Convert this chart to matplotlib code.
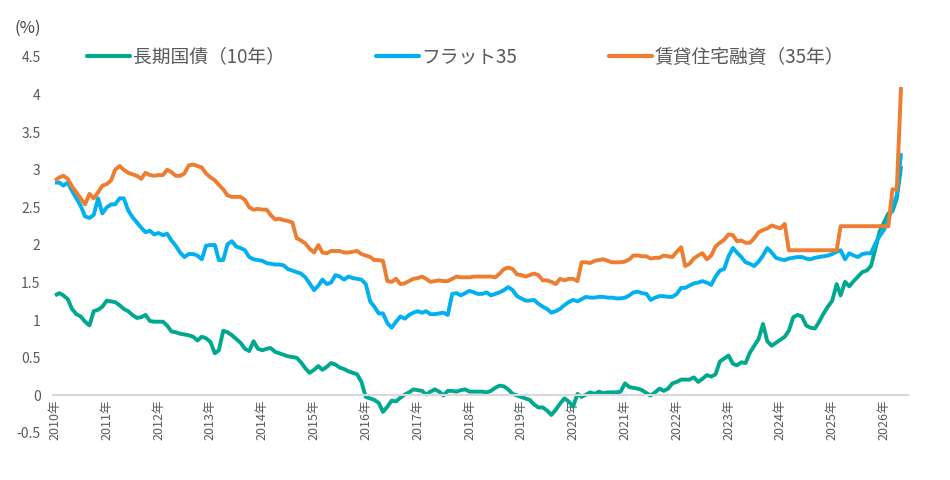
import matplotlib
matplotlib.use("Agg")
import matplotlib.pyplot as plt
import matplotlib.dates as mdates
from matplotlib.ticker import FuncFormatter, MultipleLocator
import pandas as pd

plt.rcParams["font.family"] = ["Noto Sans CJK JP", "DejaVu Sans"]

GREEN = "#00A88F"
BLUE = "#00B0F0"
ORANGE = "#ED7D31"
TEXT = "#595959"
ZERO = "#D9D9D9"

LABELS = ["長期国債（10年）", "フラット35", "賃貸住宅融資（35年）"]

# monthly values, Jan 2010 - May 2026 (one row per year)
jgb10 = [
    1.33, 1.36, 1.33, 1.28, 1.15, 1.08, 1.05, 0.98, 0.93, 1.12, 1.14, 1.18,
    1.26, 1.25, 1.24, 1.20, 1.15, 1.12, 1.07, 1.03, 1.04, 1.07, 0.99, 0.98,
    0.98, 0.98, 0.93, 0.85, 0.84, 0.82, 0.81, 0.80, 0.78, 0.73, 0.78, 0.76,
    0.71, 0.56, 0.60, 0.86, 0.84, 0.80, 0.75, 0.70, 0.62, 0.59, 0.72, 0.62,
    0.60, 0.62, 0.63, 0.58, 0.56, 0.54, 0.52, 0.51, 0.50, 0.44, 0.36, 0.30,
    0.34, 0.39, 0.34, 0.38, 0.43, 0.41, 0.37, 0.35, 0.32, 0.30, 0.28, 0.18,
    -0.02, -0.04, -0.06, -0.10, -0.22, -0.15, -0.07, -0.08, -0.03, 0.01, 0.04, 0.08,
    0.07, 0.06, 0.01, 0.05, 0.08, 0.05, 0.00, 0.06, 0.06, 0.05, 0.07, 0.08,
    0.05, 0.05, 0.05, 0.05, 0.04, 0.06, 0.10, 0.13, 0.12, 0.08, 0.02, 0.00,
    -0.02, -0.04, -0.06, -0.12, -0.16, -0.16, -0.20, -0.26, -0.19, -0.11, -0.04, -0.08,
    -0.15, 0.02, -0.02, 0.01, 0.04, 0.02, 0.05, 0.03, 0.04, 0.04, 0.04, 0.05,
    0.16, 0.11, 0.10, 0.09, 0.07, 0.03, 0.00, 0.04, 0.09, 0.06, 0.09, 0.16,
    0.18, 0.21, 0.21, 0.21, 0.24, 0.18, 0.22, 0.27, 0.25, 0.28, 0.45, 0.49,
    0.53, 0.42, 0.40, 0.44, 0.43, 0.57, 0.66, 0.75, 0.95, 0.72, 0.66, 0.70,
    0.74, 0.78, 0.86, 1.04, 1.07, 1.05, 0.93, 0.90, 0.89, 0.98, 1.09, 1.18,
    1.26, 1.48, 1.33, 1.51, 1.45, 1.52, 1.58, 1.64, 1.66, 1.72, 1.95, 2.18,
    2.30, 2.42, 2.45, 2.62, 3.05,
]

flat35 = [
    2.83, 2.83, 2.79, 2.83, 2.72, 2.62, 2.52, 2.38, 2.36, 2.40, 2.62, 2.42,
    2.50, 2.54, 2.54, 2.62, 2.62, 2.46, 2.37, 2.30, 2.23, 2.17, 2.19, 2.14,
    2.16, 2.13, 2.15, 2.06, 1.99, 1.90, 1.84, 1.88, 1.88, 1.86, 1.81, 1.99,
    2.00, 2.00, 1.80, 1.80, 2.01, 2.05, 1.98, 1.96, 1.93, 1.84, 1.81, 1.80,
    1.79, 1.76, 1.75, 1.74, 1.74, 1.73, 1.68, 1.66, 1.64, 1.62, 1.57, 1.49,
    1.40, 1.46, 1.54, 1.48, 1.50, 1.60, 1.58, 1.54, 1.58, 1.56, 1.55, 1.54,
    1.48, 1.25, 1.18, 1.09, 1.09, 0.96, 0.90, 0.98, 1.05, 1.02, 1.07, 1.10,
    1.12, 1.10, 1.12, 1.08, 1.08, 1.09, 1.10, 1.07, 1.35, 1.36, 1.33, 1.36,
    1.39, 1.37, 1.35, 1.35, 1.37, 1.33, 1.35, 1.37, 1.40, 1.44, 1.40, 1.32,
    1.29, 1.26, 1.26, 1.27, 1.22, 1.18, 1.15, 1.10, 1.12, 1.15, 1.20, 1.24,
    1.27, 1.25, 1.28, 1.31, 1.30, 1.30, 1.31, 1.31, 1.30, 1.30, 1.29, 1.29,
    1.30, 1.33, 1.37, 1.38, 1.36, 1.35, 1.27, 1.30, 1.32, 1.32, 1.31, 1.31,
    1.35, 1.43, 1.43, 1.46, 1.49, 1.50, 1.52, 1.50, 1.47, 1.58, 1.66, 1.68,
    1.85, 1.96, 1.90, 1.84, 1.77, 1.75, 1.72, 1.78, 1.86, 1.96, 1.90, 1.83,
    1.81, 1.80, 1.82, 1.83, 1.84, 1.84, 1.82, 1.81, 1.83, 1.84, 1.85, 1.86,
    1.88, 1.91, 1.93, 1.81, 1.89, 1.86, 1.84, 1.88, 1.89, 1.89, 2.02, 2.12,
    2.20, 2.35, 2.50, 2.66, 3.22,
]

rental35 = [
    2.86, 2.90, 2.92, 2.88, 2.78, 2.70, 2.62, 2.54, 2.68, 2.62, 2.70, 2.79,
    2.81, 2.86, 3.00, 3.05, 3.00, 2.96, 2.94, 2.92, 2.88, 2.96, 2.93, 2.92,
    2.93, 2.93, 3.00, 2.97, 2.92, 2.92, 2.95, 3.06, 3.07, 3.05, 3.03, 2.95,
    2.90, 2.86, 2.80, 2.74, 2.66, 2.64, 2.64, 2.64, 2.60, 2.50, 2.47, 2.48,
    2.47, 2.47, 2.40, 2.34, 2.35, 2.33, 2.32, 2.30, 2.09, 2.06, 2.02, 1.95,
    1.90, 2.00, 1.90, 1.89, 1.92, 1.92, 1.92, 1.90, 1.90, 1.91, 1.92, 1.88,
    1.86, 1.84, 1.80, 1.80, 1.79, 1.52, 1.51, 1.55, 1.48, 1.49, 1.52, 1.55,
    1.56, 1.58, 1.55, 1.51, 1.52, 1.53, 1.52, 1.52, 1.55, 1.58, 1.57, 1.57,
    1.57, 1.58, 1.58, 1.58, 1.58, 1.58, 1.57, 1.62, 1.68, 1.70, 1.68, 1.61,
    1.60, 1.58, 1.60, 1.62, 1.60, 1.53, 1.53, 1.51, 1.48, 1.55, 1.53, 1.55,
    1.55, 1.52, 1.77, 1.77, 1.76, 1.79, 1.80, 1.81, 1.79, 1.77, 1.77, 1.77,
    1.78, 1.81, 1.86, 1.86, 1.85, 1.85, 1.82, 1.83, 1.83, 1.86, 1.85, 1.84,
    1.91, 1.97, 1.72, 1.75, 1.82, 1.86, 1.89, 1.81, 1.86, 1.98, 2.03, 2.07,
    2.14, 2.13, 2.05, 2.06, 2.03, 2.03, 2.09, 2.17, 2.20, 2.22, 2.26, 2.24,
    2.22, 2.28, 1.93, 1.93, 1.93, 1.93, 1.93, 1.93, 1.93, 1.93, 1.93, 1.93,
    1.93, 1.93, 2.25, 2.25, 2.25, 2.25, 2.25, 2.25, 2.25, 2.25, 2.25, 2.25,
    2.25, 2.25, 2.74, 2.74, 4.10,
]

months = pd.date_range("2010-01-01", periods=len(jgb10), freq="MS")

fig = plt.figure(figsize=(9.5, 4.8), dpi=100)
ax = fig.add_axes([53 / 950, 1 - 433 / 480, (908 - 53) / 950, (433 - 57) / 480])

series = [(jgb10, GREEN), (flat35, BLUE), (rental35, ORANGE)]
for (vals, col), lab in zip(series, LABELS):
    ax.plot(months[:len(vals)], vals, color=col, lw=2.8, label=lab,
            solid_joinstyle="round", solid_capstyle="butt")

ax.set_ylim(-0.5, 4.5)
ax.set_xlim(pd.Timestamp("2009-12-18"), pd.Timestamp("2026-06-19"))
ax.yaxis.set_major_locator(MultipleLocator(0.5))
ax.yaxis.set_major_formatter(FuncFormatter(lambda v, _: f"{v:g}"))
ax.xaxis.set_major_locator(mdates.YearLocator())
ax.xaxis.set_major_formatter(mdates.DateFormatter("%Y年"))

for s in ("left", "top", "right"):
    ax.spines[s].set_visible(False)
ax.spines["bottom"].set_position(("data", 0))
ax.spines["bottom"].set_color(ZERO)
ax.spines["bottom"].set_linewidth(1.5)

ax.tick_params(axis="y", length=0, pad=9, labelsize=10, labelcolor=TEXT)
ax.tick_params(axis="x", length=0, pad=3, labelsize=9, labelcolor=TEXT,
               labelrotation=90)

fig.text(15 / 950, 1 - 28 / 480, "(%)", fontsize=12, color="#404040",
         ha="left", va="center")

fig.legend(loc="center left", bbox_to_anchor=(87 / 950, 1 - 57 / 480),
           ncol=3, frameon=False, fontsize=13.5, labelcolor=TEXT,
           handlelength=2.3, handletextpad=0.15, columnspacing=4.85,
           borderpad=0, borderaxespad=0)
for h in fig.legends[0].get_lines():
    h.set_linewidth(3.0)
    h.set_solid_capstyle("round")

fig.savefig("out.png", dpi=100)
